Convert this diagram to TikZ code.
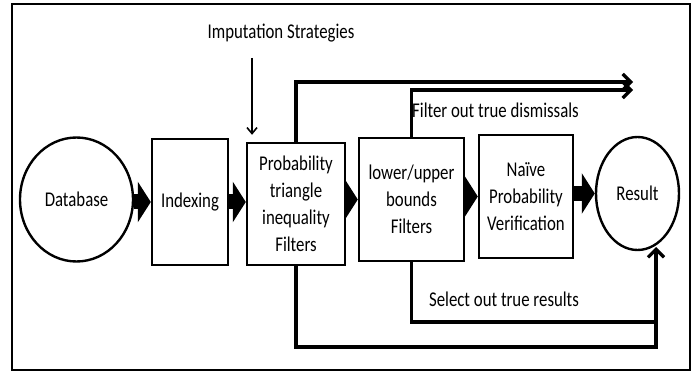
\documentclass[tikz,border=0pt]{standalone}
\usepackage{fontspec}
\setmainfont{Carlito}[FakeStretch=0.8]
\usetikzlibrary{shapes.geometric,arrows.meta}
\tikzset{
  lbl/.style={font=\fontsize{21}{27}\selectfont, inner sep=0pt, align=center},
  boxnode/.style={lbl, draw, line width=2.4pt, rectangle},
  ovalnode/.style={lbl, draw, line width=2.4pt, ellipse},
  fat/.style={line width=15pt, -{Triangle[length=13pt,width=40pt]}},
  conn/.style={line width=3.2pt},
  barb/.style={-{Straight Barb[length=8pt,width=16pt,line width=3.2pt]}},
  thin/.style={line width=1.6pt, -{Straight Barb[length=6pt,width=10pt,line width=1.6pt]}}
}
\begin{document}
\begin{tikzpicture}[x=1pt,y=-1pt]
\useasboundingbox (0,0) rectangle (694,374);
\fill[white] (0,0) rectangle (694,374);
\draw[line width=2.4pt] (12,4) rectangle (690,370);

\node[ovalnode, minimum width=113pt, minimum height=124pt] (db) at (76.5,199.5) {Database};
\node[boxnode, minimum width=76pt, minimum height=126pt] (idx) at (190,202) {Indexing};
\node[boxnode, minimum width=98pt, minimum height=122pt] (prob) at (296,204) {Probability\\triangle\\inequality\\Filters};
\node[boxnode, minimum width=105pt, minimum height=123pt] (lub) at (411.5,199.5) {lower/upper\\bounds\\Filters};
\node[boxnode, minimum width=94pt, minimum height=123pt] (naive) at (526,196.5) {Naïve\\Probability\\Verification};
\node[ovalnode, minimum width=83pt, minimum height=113pt] (res) at (637.5,193.5) {Result};

\node[lbl] (imp) at (281,33) {Imputation Strategies};
\node[lbl] (fout) at (495.5,110) {Filter out true dismissals};
\node[lbl] (sel) at (504,299) {Select out true results};

% fat arrows
\draw[fat] (db.east |- idx.west) -- (idx.west);
\draw[fat] (idx.east) -- (idx.east -| prob.west);
\draw[fat] (prob.east |- lub.west) -- (lub.west);
\draw[fat] (lub.east |- naive.west) -- (naive.west);
\draw[fat] (naive.east |- res.west) -- (res.west);

% imputation arrow
\coordinate (impstart) at (252,58);
\draw[thin] (impstart) -- ([yshift=7pt]impstart |- prob.north);

% top outputs
\coordinate (outA) at (633,82);
\coordinate (outB) at (633,90);
\draw[conn,barb] (prob.north) |- (outA);
\draw[conn,barb] (lub.north) |- (outB);

% bottom to result
\coordinate (rtip) at (656,247);
\coordinate (botA) at (656,347);
\coordinate (botB) at (656,322);
\draw[conn] (lub.south) |- (botB);
\draw[conn,barb] (prob.south) |- (botA) -- (rtip);
\end{tikzpicture}
\end{document}
